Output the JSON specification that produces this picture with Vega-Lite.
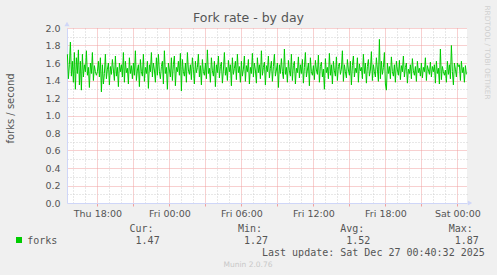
{
"$schema": "https://vega.github.io/schema/vega-lite/v6.json",
"width": 400, "height": 175,
"autosize": {"type": "none"},
"padding": {"left": 67, "top": 28, "right": 30, "bottom": 72},
"background": "#f0f0f0",
"config": {"view": {"stroke": null, "fill": "#ffffff"}},
"title": {"text": "Fork rate - by day", "font": "DejaVu Sans", "fontSize": 12.5, "fontWeight": "normal", "color": "#555555", "anchor": "middle", "frame": "group", "dx": -18.5, "baseline": "alphabetic", "offset": 0, "dy": 29.5},
"resolve": {"axis": {"x": "independent", "y": "independent"}},
"layer": [
{
"data": {"values": [{}]},
"mark": {"type": "rule", "opacity": 0},
"encoding": {
"x": {"datum": {"year": 2025, "month": 12, "date": 26, "hours": 12}, "type": "temporal",
 "scale": {"domain": [{"year": 2025, "month": 12, "date": 25, "hours": 15, "minutes": 28}, {"year": 2025, "month": 12, "date": 27, "hours": 0, "minutes": 48}]},
 "axis": {"orient": "bottom", "values": [
 {"year": 2025, "month": 12, "date": 25, "hours": 16}, {"year": 2025, "month": 12, "date": 25, "hours": 17},
 {"year": 2025, "month": 12, "date": 25, "hours": 19}, {"year": 2025, "month": 12, "date": 25, "hours": 20},
 {"year": 2025, "month": 12, "date": 25, "hours": 22}, {"year": 2025, "month": 12, "date": 25, "hours": 23},
 {"year": 2025, "month": 12, "date": 26, "hours": 1}, {"year": 2025, "month": 12, "date": 26, "hours": 2},
 {"year": 2025, "month": 12, "date": 26, "hours": 4}, {"year": 2025, "month": 12, "date": 26, "hours": 5},
 {"year": 2025, "month": 12, "date": 26, "hours": 7}, {"year": 2025, "month": 12, "date": 26, "hours": 8},
 {"year": 2025, "month": 12, "date": 26, "hours": 10}, {"year": 2025, "month": 12, "date": 26, "hours": 11},
 {"year": 2025, "month": 12, "date": 26, "hours": 13}, {"year": 2025, "month": 12, "date": 26, "hours": 14},
 {"year": 2025, "month": 12, "date": 26, "hours": 16}, {"year": 2025, "month": 12, "date": 26, "hours": 17},
 {"year": 2025, "month": 12, "date": 26, "hours": 19}, {"year": 2025, "month": 12, "date": 26, "hours": 20},
 {"year": 2025, "month": 12, "date": 26, "hours": 22}, {"year": 2025, "month": 12, "date": 26, "hours": 23}],
 "grid": true, "gridColor": "#d0d0d0", "gridDash": [1, 2], "labels": false, "ticks": false, "domain": false,
 "title": "Munin 2.0.76", "titleFont": "DejaVu Sans", "titleFontSize": 7.5, "titleFontWeight": "normal", "titleColor": "#c8c8c8",
 "titleX": 180.5, "titleY": 63.5, "titleAlign": "center", "titleBaseline": "alphabetic"}},
"y": {"datum": 1, "type": "quantitative", "scale": {"domain": [0, 2], "nice": false},
 "axis": {"orient": "right", "values": [0.1, 0.3, 0.5, 0.7, 0.9, 1.1, 1.3, 1.5, 1.7, 1.9],
 "grid": true, "gridColor": "#d0d0d0", "gridDash": [1, 2], "labels": false, "ticks": false, "domain": false,
 "title": "RRDTOOL / TOBI OETIKER", "titleAngle": 90, "titleFont": "DejaVu Sans", "titleFontSize": 7.3, "titleFontWeight": "normal", "titleColor": "#d0d0d0",
 "titleX": 19, "titleY": -23, "titleAlign": "left", "titleBaseline": "middle"}}
}
},
{
"data": {"values": [{}]},
"mark": {"type": "rule", "opacity": 0},
"encoding": {
"x": {"datum": {"year": 2025, "month": 12, "date": 26, "hours": 12}, "type": "temporal",
 "axis": {"orient": "bottom", "values": [
 {"year": 2025, "month": 12, "date": 25, "hours": 18}, {"year": 2025, "month": 12, "date": 25, "hours": 21},
 {"year": 2025, "month": 12, "date": 26, "hours": 0}, {"year": 2025, "month": 12, "date": 26, "hours": 3},
 {"year": 2025, "month": 12, "date": 26, "hours": 6}, {"year": 2025, "month": 12, "date": 26, "hours": 9},
 {"year": 2025, "month": 12, "date": 26, "hours": 12}, {"year": 2025, "month": 12, "date": 26, "hours": 15},
 {"year": 2025, "month": 12, "date": 26, "hours": 18}, {"year": 2025, "month": 12, "date": 26, "hours": 21},
 {"year": 2025, "month": 12, "date": 27, "hours": 0}],
 "grid": true, "gridColor": "#f0a0a0", "gridDash": [1, 1], "labels": false, "ticks": true, "tickColor": "#f0a0a0", "tickSize": 3, "domain": false,
 "title": ["\u200b\u00a0\u00a0\u00a0\u00a0\u00a0\u00a0\u00a0\u00a0\u00a0\u00a0\u00a0\u00a0\u00a0\u00a0\u00a0\u00a0\u00a0Cur:\u00a0\u00a0\u00a0\u00a0\u00a0\u00a0\u00a0\u00a0\u00a0\u00a0\u00a0\u00a0\u00a0\u00a0Min:\u00a0\u00a0\u00a0\u00a0\u00a0\u00a0\u00a0\u00a0\u00a0\u00a0\u00a0\u00a0\u00a0Avg:\u00a0\u00a0\u00a0\u00a0\u00a0\u00a0\u00a0\u00a0\u00a0\u00a0\u00a0\u00a0\u00a0\u00a0Max:",
 "\u200bforks\u00a0\u00a0\u00a0\u00a0\u00a0\u00a0\u00a0\u00a0\u00a0\u00a0\u00a0\u00a0\u00a01.47\u00a0\u00a0\u00a0\u00a0\u00a0\u00a0\u00a0\u00a0\u00a0\u00a0\u00a0\u00a0\u00a0\u00a01.27\u00a0\u00a0\u00a0\u00a0\u00a0\u00a0\u00a0\u00a0\u00a0\u00a0\u00a0\u00a0\u00a01.52\u00a0\u00a0\u00a0\u00a0\u00a0\u00a0\u00a0\u00a0\u00a0\u00a0\u00a0\u00a0\u00a0\u00a01.87",
 "\u200b\u00a0\u00a0\u00a0\u00a0\u00a0\u00a0\u00a0\u00a0\u00a0\u00a0\u00a0\u00a0\u00a0\u00a0\u00a0\u00a0\u00a0\u00a0\u00a0\u00a0\u00a0\u00a0\u00a0\u00a0\u00a0\u00a0\u00a0\u00a0\u00a0\u00a0\u00a0\u00a0\u00a0\u00a0\u00a0\u00a0\u00a0\u00a0\u00a0Last update: Sat Dec 27 00:40:32 2025"],
 "titleFont": "DejaVu Sans Mono", "titleFontSize": 10, "titleFontWeight": "normal", "titleColor": "#555555",
 "titleX": -40.3, "titleY": 20.6, "titleAlign": "left", "titleBaseline": "top", "titleLineHeight": 11.8}},
"y": {"datum": 1, "type": "quantitative",
 "axis": {"orient": "left", "values": [0.2, 0.4, 0.6, 0.8, 1.0, 1.2, 1.4, 1.6, 1.8, 2.0],
 "grid": true, "gridColor": "#f0a0a0", "gridDash": [1, 1], "labels": false, "ticks": false, "domain": false, "title": null}}
}
},
{
"data": {"values": [{}]},
"mark": {"type": "point", "shape": "triangle-right", "size": 26, "filled": true, "color": "#cfd6f8", "opacity": 1},
"encoding": {
"x": {"datum": {"year": 2025, "month": 12, "date": 27, "hours": 1, "minutes": 3}, "type": "temporal", "axis": null},
"y": {"datum": 0, "type": "quantitative", "axis": null}
}
},
{
"data": {"values": [{}]},
"mark": {"type": "point", "shape": "triangle-up", "size": 26, "filled": true, "color": "#cfd6f8", "opacity": 1},
"encoding": {
"x": {"datum": {"year": 2025, "month": 12, "date": 25, "hours": 15, "minutes": 28}, "type": "temporal", "axis": null},
"y": {"datum": 2.046, "type": "quantitative", "axis": null}
}
},
{
"data": {"values": [
{"t":"2025-12-25T15:30","v":1.70},{"t":"2025-12-25T15:35","v":1.42},{"t":"2025-12-25T15:40","v":1.58},{"t":"2025-12-25T15:45","v":1.84},{"t":"2025-12-25T15:50","v":1.45},{"t":"2025-12-25T15:55","v":1.62},
{"t":"2025-12-25T16:00","v":1.38},{"t":"2025-12-25T16:05","v":1.72},{"t":"2025-12-25T16:10","v":1.30},{"t":"2025-12-25T16:15","v":1.66},{"t":"2025-12-25T16:20","v":1.48},{"t":"2025-12-25T16:25","v":1.75},{"t":"2025-12-25T16:30","v":1.35},{"t":"2025-12-25T16:35","v":1.62},{"t":"2025-12-25T16:40","v":1.29},{"t":"2025-12-25T16:45","v":1.70},{"t":"2025-12-25T16:50","v":1.44},{"t":"2025-12-25T16:55","v":1.58},
{"t":"2025-12-25T17:00","v":1.50},{"t":"2025-12-25T17:05","v":1.74},{"t":"2025-12-25T17:10","v":1.46},{"t":"2025-12-25T17:15","v":1.55},{"t":"2025-12-25T17:20","v":1.32},{"t":"2025-12-25T17:25","v":1.60},{"t":"2025-12-25T17:30","v":1.48},{"t":"2025-12-25T17:35","v":1.72},{"t":"2025-12-25T17:40","v":1.40},{"t":"2025-12-25T17:45","v":1.57},{"t":"2025-12-25T17:50","v":1.50},{"t":"2025-12-25T17:55","v":1.46},
{"t":"2025-12-25T18:00","v":1.50},{"t":"2025-12-25T18:05","v":1.62},{"t":"2025-12-25T18:10","v":1.44},{"t":"2025-12-25T18:15","v":1.66},{"t":"2025-12-25T18:20","v":1.27},{"t":"2025-12-25T18:25","v":1.58},{"t":"2025-12-25T18:30","v":1.36},{"t":"2025-12-25T18:35","v":1.48},{"t":"2025-12-25T18:40","v":1.70},{"t":"2025-12-25T18:45","v":1.42},{"t":"2025-12-25T18:50","v":1.53},{"t":"2025-12-25T18:55","v":1.60},
{"t":"2025-12-25T19:00","v":1.35},{"t":"2025-12-25T19:05","v":1.56},{"t":"2025-12-25T19:10","v":1.47},{"t":"2025-12-25T19:15","v":1.64},{"t":"2025-12-25T19:20","v":1.52},{"t":"2025-12-25T19:25","v":1.40},{"t":"2025-12-25T19:30","v":1.68},{"t":"2025-12-25T19:35","v":1.45},{"t":"2025-12-25T19:40","v":1.55},{"t":"2025-12-25T19:45","v":1.33},{"t":"2025-12-25T19:50","v":1.60},{"t":"2025-12-25T19:55","v":1.50},
{"t":"2025-12-25T20:00","v":1.58},{"t":"2025-12-25T20:05","v":1.44},{"t":"2025-12-25T20:10","v":1.72},{"t":"2025-12-25T20:15","v":1.38},{"t":"2025-12-25T20:20","v":1.62},{"t":"2025-12-25T20:25","v":1.49},{"t":"2025-12-25T20:30","v":1.54},{"t":"2025-12-25T20:35","v":1.36},{"t":"2025-12-25T20:40","v":1.66},{"t":"2025-12-25T20:45","v":1.48},{"t":"2025-12-25T20:50","v":1.57},{"t":"2025-12-25T20:55","v":1.42},
{"t":"2025-12-25T21:00","v":1.60},{"t":"2025-12-25T21:05","v":1.46},{"t":"2025-12-25T21:10","v":1.74},{"t":"2025-12-25T21:15","v":1.40},{"t":"2025-12-25T21:20","v":1.52},{"t":"2025-12-25T21:25","v":1.58},{"t":"2025-12-25T21:30","v":1.33},{"t":"2025-12-25T21:35","v":1.64},{"t":"2025-12-25T21:40","v":1.50},{"t":"2025-12-25T21:45","v":1.45},{"t":"2025-12-25T21:50","v":1.70},{"t":"2025-12-25T21:55","v":1.39},
{"t":"2025-12-25T22:00","v":1.55},{"t":"2025-12-25T22:05","v":1.48},{"t":"2025-12-25T22:10","v":1.62},{"t":"2025-12-25T22:15","v":1.31},{"t":"2025-12-25T22:20","v":1.58},{"t":"2025-12-25T22:25","v":1.50},{"t":"2025-12-25T22:30","v":1.72},{"t":"2025-12-25T22:35","v":1.44},{"t":"2025-12-25T22:40","v":1.60},{"t":"2025-12-25T22:45","v":1.52},{"t":"2025-12-25T22:50","v":1.38},{"t":"2025-12-25T22:55","v":1.66},
{"t":"2025-12-25T23:00","v":1.46},{"t":"2025-12-25T23:05","v":1.70},{"t":"2025-12-25T23:10","v":1.50},{"t":"2025-12-25T23:15","v":1.42},{"t":"2025-12-25T23:20","v":1.56},{"t":"2025-12-25T23:25","v":1.62},{"t":"2025-12-25T23:30","v":1.36},{"t":"2025-12-25T23:35","v":1.74},{"t":"2025-12-25T23:40","v":1.48},{"t":"2025-12-25T23:45","v":1.55},{"t":"2025-12-25T23:50","v":1.30},{"t":"2025-12-25T23:55","v":1.60},
{"t":"2025-12-26T00:00","v":1.52},{"t":"2025-12-26T00:05","v":1.44},{"t":"2025-12-26T00:10","v":1.66},{"t":"2025-12-26T00:15","v":1.40},{"t":"2025-12-26T00:20","v":1.58},{"t":"2025-12-26T00:25","v":1.68},{"t":"2025-12-26T00:30","v":1.34},{"t":"2025-12-26T00:35","v":1.55},{"t":"2025-12-26T00:40","v":1.50},{"t":"2025-12-26T00:45","v":1.62},{"t":"2025-12-26T00:50","v":1.46},{"t":"2025-12-26T00:55","v":1.71},
{"t":"2025-12-26T01:00","v":1.28},{"t":"2025-12-26T01:05","v":1.64},{"t":"2025-12-26T01:10","v":1.50},{"t":"2025-12-26T01:15","v":1.45},{"t":"2025-12-26T01:20","v":1.60},{"t":"2025-12-26T01:25","v":1.38},{"t":"2025-12-26T01:30","v":1.72},{"t":"2025-12-26T01:35","v":1.52},{"t":"2025-12-26T01:40","v":1.47},{"t":"2025-12-26T01:45","v":1.58},{"t":"2025-12-26T01:50","v":1.41},{"t":"2025-12-26T01:55","v":1.66},
{"t":"2025-12-26T02:00","v":1.53},{"t":"2025-12-26T02:05","v":1.36},{"t":"2025-12-26T02:10","v":1.62},{"t":"2025-12-26T02:15","v":1.49},{"t":"2025-12-26T02:20","v":1.55},{"t":"2025-12-26T02:25","v":1.70},{"t":"2025-12-26T02:30","v":1.44},{"t":"2025-12-26T02:35","v":1.57},{"t":"2025-12-26T02:40","v":1.35},{"t":"2025-12-26T02:45","v":1.64},{"t":"2025-12-26T02:50","v":1.50},{"t":"2025-12-26T02:55","v":1.46},
{"t":"2025-12-26T03:00","v":1.60},{"t":"2025-12-26T03:05","v":1.42},{"t":"2025-12-26T03:10","v":1.75},{"t":"2025-12-26T03:15","v":1.48},{"t":"2025-12-26T03:20","v":1.54},{"t":"2025-12-26T03:25","v":1.38},{"t":"2025-12-26T03:30","v":1.66},{"t":"2025-12-26T03:35","v":1.51},{"t":"2025-12-26T03:40","v":1.45},{"t":"2025-12-26T03:45","v":1.62},{"t":"2025-12-26T03:50","v":1.33},{"t":"2025-12-26T03:55","v":1.58},
{"t":"2025-12-26T04:00","v":1.49},{"t":"2025-12-26T04:05","v":1.68},{"t":"2025-12-26T04:10","v":1.43},{"t":"2025-12-26T04:15","v":1.56},{"t":"2025-12-26T04:20","v":1.61},{"t":"2025-12-26T04:25","v":1.37},{"t":"2025-12-26T04:30","v":1.52},{"t":"2025-12-26T04:35","v":1.72},{"t":"2025-12-26T04:40","v":1.46},{"t":"2025-12-26T04:45","v":1.55},{"t":"2025-12-26T04:50","v":1.40},{"t":"2025-12-26T04:55","v":1.63},
{"t":"2025-12-26T05:00","v":1.50},{"t":"2025-12-26T05:05","v":1.58},{"t":"2025-12-26T05:10","v":1.34},{"t":"2025-12-26T05:15","v":1.66},{"t":"2025-12-26T05:20","v":1.47},{"t":"2025-12-26T05:25","v":1.54},{"t":"2025-12-26T05:30","v":1.62},{"t":"2025-12-26T05:35","v":1.41},{"t":"2025-12-26T05:40","v":1.70},{"t":"2025-12-26T05:45","v":1.49},{"t":"2025-12-26T05:50","v":1.56},{"t":"2025-12-26T05:55","v":1.38},
{"t":"2025-12-26T06:00","v":1.62},{"t":"2025-12-26T06:05","v":1.45},{"t":"2025-12-26T06:10","v":1.53},{"t":"2025-12-26T06:15","v":1.68},{"t":"2025-12-26T06:20","v":1.39},{"t":"2025-12-26T06:25","v":1.57},{"t":"2025-12-26T06:30","v":1.50},{"t":"2025-12-26T06:35","v":1.64},{"t":"2025-12-26T06:40","v":1.36},{"t":"2025-12-26T06:45","v":1.55},{"t":"2025-12-26T06:50","v":1.48},{"t":"2025-12-26T06:55","v":1.71},
{"t":"2025-12-26T07:00","v":1.44},{"t":"2025-12-26T07:05","v":1.60},{"t":"2025-12-26T07:10","v":1.52},{"t":"2025-12-26T07:15","v":1.37},{"t":"2025-12-26T07:20","v":1.66},{"t":"2025-12-26T07:25","v":1.49},{"t":"2025-12-26T07:30","v":1.58},{"t":"2025-12-26T07:35","v":1.42},{"t":"2025-12-26T07:40","v":1.74},{"t":"2025-12-26T07:45","v":1.46},{"t":"2025-12-26T07:50","v":1.55},{"t":"2025-12-26T07:55","v":1.61},
{"t":"2025-12-26T08:00","v":1.35},{"t":"2025-12-26T08:05","v":1.57},{"t":"2025-12-26T08:10","v":1.50},{"t":"2025-12-26T08:15","v":1.68},{"t":"2025-12-26T08:20","v":1.43},{"t":"2025-12-26T08:25","v":1.54},{"t":"2025-12-26T08:30","v":1.62},{"t":"2025-12-26T08:35","v":1.39},{"t":"2025-12-26T08:40","v":1.56},{"t":"2025-12-26T08:45","v":1.70},{"t":"2025-12-26T08:50","v":1.45},{"t":"2025-12-26T08:55","v":1.52},
{"t":"2025-12-26T09:00","v":1.60},{"t":"2025-12-26T09:05","v":1.32},{"t":"2025-12-26T09:10","v":1.58},{"t":"2025-12-26T09:15","v":1.48},{"t":"2025-12-26T09:20","v":1.65},{"t":"2025-12-26T09:25","v":1.50},{"t":"2025-12-26T09:30","v":1.42},{"t":"2025-12-26T09:35","v":1.76},{"t":"2025-12-26T09:40","v":1.47},{"t":"2025-12-26T09:45","v":1.55},{"t":"2025-12-26T09:50","v":1.38},{"t":"2025-12-26T09:55","v":1.63},
{"t":"2025-12-26T10:00","v":1.51},{"t":"2025-12-26T10:05","v":1.45},{"t":"2025-12-26T10:10","v":1.70},{"t":"2025-12-26T10:15","v":1.40},{"t":"2025-12-26T10:20","v":1.57},{"t":"2025-12-26T10:25","v":1.62},{"t":"2025-12-26T10:30","v":1.36},{"t":"2025-12-26T10:35","v":1.54},{"t":"2025-12-26T10:40","v":1.49},{"t":"2025-12-26T10:45","v":1.67},{"t":"2025-12-26T10:50","v":1.43},{"t":"2025-12-26T10:55","v":1.58},
{"t":"2025-12-26T11:00","v":1.48},{"t":"2025-12-26T11:05","v":1.64},{"t":"2025-12-26T11:10","v":1.37},{"t":"2025-12-26T11:15","v":1.55},{"t":"2025-12-26T11:20","v":1.72},{"t":"2025-12-26T11:25","v":1.44},{"t":"2025-12-26T11:30","v":1.52},{"t":"2025-12-26T11:35","v":1.60},{"t":"2025-12-26T11:40","v":1.34},{"t":"2025-12-26T11:45","v":1.66},{"t":"2025-12-26T11:50","v":1.50},{"t":"2025-12-26T11:55","v":1.46},
{"t":"2025-12-26T12:00","v":1.57},{"t":"2025-12-26T12:05","v":1.41},{"t":"2025-12-26T12:10","v":1.63},{"t":"2025-12-26T12:15","v":1.52},{"t":"2025-12-26T12:20","v":1.47},{"t":"2025-12-26T12:25","v":1.69},{"t":"2025-12-26T12:30","v":1.38},{"t":"2025-12-26T12:35","v":1.56},{"t":"2025-12-26T12:40","v":1.61},{"t":"2025-12-26T12:45","v":1.44},{"t":"2025-12-26T12:50","v":1.53},{"t":"2025-12-26T12:55","v":1.30},
{"t":"2025-12-26T13:00","v":1.65},{"t":"2025-12-26T13:05","v":1.49},{"t":"2025-12-26T13:10","v":1.55},{"t":"2025-12-26T13:15","v":1.42},{"t":"2025-12-26T13:20","v":1.71},{"t":"2025-12-26T13:25","v":1.46},{"t":"2025-12-26T13:30","v":1.58},{"t":"2025-12-26T13:35","v":1.36},{"t":"2025-12-26T13:40","v":1.62},{"t":"2025-12-26T13:45","v":1.51},{"t":"2025-12-26T13:50","v":1.45},{"t":"2025-12-26T13:55","v":1.67},
{"t":"2025-12-26T14:00","v":1.40},{"t":"2025-12-26T14:05","v":1.56},{"t":"2025-12-26T14:10","v":1.60},{"t":"2025-12-26T14:15","v":1.47},{"t":"2025-12-26T14:20","v":1.53},{"t":"2025-12-26T14:25","v":1.74},{"t":"2025-12-26T14:30","v":1.39},{"t":"2025-12-26T14:35","v":1.58},{"t":"2025-12-26T14:40","v":1.50},{"t":"2025-12-26T14:45","v":1.43},{"t":"2025-12-26T14:50","v":1.64},{"t":"2025-12-26T14:55","v":1.52},
{"t":"2025-12-26T15:00","v":1.46},{"t":"2025-12-26T15:05","v":1.62},{"t":"2025-12-26T15:10","v":1.35},{"t":"2025-12-26T15:15","v":1.57},{"t":"2025-12-26T15:20","v":1.68},{"t":"2025-12-26T15:25","v":1.44},{"t":"2025-12-26T15:30","v":1.54},{"t":"2025-12-26T15:35","v":1.49},{"t":"2025-12-26T15:40","v":1.66},{"t":"2025-12-26T15:45","v":1.38},{"t":"2025-12-26T15:50","v":1.59},{"t":"2025-12-26T15:55","v":1.51},
{"t":"2025-12-26T16:00","v":1.55},{"t":"2025-12-26T16:05","v":1.42},{"t":"2025-12-26T16:10","v":1.70},{"t":"2025-12-26T16:15","v":1.48},{"t":"2025-12-26T16:20","v":1.60},{"t":"2025-12-26T16:25","v":1.37},{"t":"2025-12-26T16:30","v":1.56},{"t":"2025-12-26T16:35","v":1.64},{"t":"2025-12-26T16:40","v":1.45},{"t":"2025-12-26T16:45","v":1.52},{"t":"2025-12-26T16:50","v":1.73},{"t":"2025-12-26T16:55","v":1.40},
{"t":"2025-12-26T17:00","v":1.58},{"t":"2025-12-26T17:05","v":1.50},{"t":"2025-12-26T17:10","v":1.44},{"t":"2025-12-26T17:15","v":1.66},{"t":"2025-12-26T17:20","v":1.53},{"t":"2025-12-26T17:25","v":1.39},{"t":"2025-12-26T17:30","v":1.87},{"t":"2025-12-26T17:35","v":1.42},{"t":"2025-12-26T17:40","v":1.62},{"t":"2025-12-26T17:45","v":1.47},{"t":"2025-12-26T17:50","v":1.55},{"t":"2025-12-26T17:55","v":1.72},
{"t":"2025-12-26T18:00","v":1.36},{"t":"2025-12-26T18:05","v":1.29},{"t":"2025-12-26T18:10","v":1.60},{"t":"2025-12-26T18:15","v":1.48},{"t":"2025-12-26T18:20","v":1.56},{"t":"2025-12-26T18:25","v":1.42},{"t":"2025-12-26T18:30","v":1.67},{"t":"2025-12-26T18:35","v":1.50},{"t":"2025-12-26T18:40","v":1.45},{"t":"2025-12-26T18:45","v":1.58},{"t":"2025-12-26T18:50","v":1.38},{"t":"2025-12-26T18:55","v":1.62},
{"t":"2025-12-26T19:00","v":1.52},{"t":"2025-12-26T19:05","v":1.46},{"t":"2025-12-26T19:10","v":1.63},{"t":"2025-12-26T19:15","v":1.41},{"t":"2025-12-26T19:20","v":1.57},{"t":"2025-12-26T19:25","v":1.50},{"t":"2025-12-26T19:30","v":1.68},{"t":"2025-12-26T19:35","v":1.44},{"t":"2025-12-26T19:40","v":1.55},{"t":"2025-12-26T19:45","v":1.60},{"t":"2025-12-26T19:50","v":1.37},{"t":"2025-12-26T19:55","v":1.53},
{"t":"2025-12-26T20:00","v":1.48},{"t":"2025-12-26T20:05","v":1.58},{"t":"2025-12-26T20:10","v":1.42},{"t":"2025-12-26T20:15","v":1.65},{"t":"2025-12-26T20:20","v":1.51},{"t":"2025-12-26T20:25","v":1.46},{"t":"2025-12-26T20:30","v":1.56},{"t":"2025-12-26T20:35","v":1.39},{"t":"2025-12-26T20:40","v":1.62},{"t":"2025-12-26T20:45","v":1.49},{"t":"2025-12-26T20:50","v":1.54},{"t":"2025-12-26T20:55","v":1.45},
{"t":"2025-12-26T21:00","v":1.60},{"t":"2025-12-26T21:05","v":1.43},{"t":"2025-12-26T21:10","v":1.55},{"t":"2025-12-26T21:15","v":1.50},{"t":"2025-12-26T21:20","v":1.66},{"t":"2025-12-26T21:25","v":1.40},{"t":"2025-12-26T21:30","v":1.57},{"t":"2025-12-26T21:35","v":1.52},{"t":"2025-12-26T21:40","v":1.47},{"t":"2025-12-26T21:45","v":1.61},{"t":"2025-12-26T21:50","v":1.44},{"t":"2025-12-26T21:55","v":1.56},
{"t":"2025-12-26T22:00","v":1.50},{"t":"2025-12-26T22:05","v":1.58},{"t":"2025-12-26T22:10","v":1.37},{"t":"2025-12-26T22:15","v":1.62},{"t":"2025-12-26T22:20","v":1.48},{"t":"2025-12-26T22:25","v":1.54},{"t":"2025-12-26T22:30","v":1.36},{"t":"2025-12-26T22:35","v":1.76},{"t":"2025-12-26T22:40","v":1.41},{"t":"2025-12-26T22:45","v":1.56},{"t":"2025-12-26T22:50","v":1.50},{"t":"2025-12-26T22:55","v":1.46},
{"t":"2025-12-26T23:00","v":1.52},{"t":"2025-12-26T23:05","v":1.38},{"t":"2025-12-26T23:10","v":1.62},{"t":"2025-12-26T23:15","v":1.47},{"t":"2025-12-26T23:20","v":1.58},{"t":"2025-12-26T23:25","v":1.42},{"t":"2025-12-26T23:30","v":1.80},{"t":"2025-12-26T23:35","v":1.50},{"t":"2025-12-26T23:40","v":1.35},{"t":"2025-12-26T23:45","v":1.60},{"t":"2025-12-26T23:50","v":1.53},{"t":"2025-12-26T23:55","v":1.44},
{"t":"2025-12-27T00:00","v":1.60},{"t":"2025-12-27T00:05","v":1.56},{"t":"2025-12-27T00:10","v":1.58},{"t":"2025-12-27T00:15","v":1.40},{"t":"2025-12-27T00:20","v":1.62},{"t":"2025-12-27T00:25","v":1.49},{"t":"2025-12-27T00:30","v":1.55},{"t":"2025-12-27T00:35","v":1.38},{"t":"2025-12-27T00:40","v":1.57},{"t":"2025-12-27T00:45","v":1.47}
]},
"mark": {"type": "line", "strokeWidth": 1, "interpolate": "linear"},
"encoding": {
"x": {"field": "t", "type": "temporal",
 "axis": {"orient": "bottom", "values": [
 {"year": 2025, "month": 12, "date": 25, "hours": 18}, {"year": 2025, "month": 12, "date": 26, "hours": 0},
 {"year": 2025, "month": 12, "date": 26, "hours": 6}, {"year": 2025, "month": 12, "date": 26, "hours": 12},
 {"year": 2025, "month": 12, "date": 26, "hours": 18}, {"year": 2025, "month": 12, "date": 27, "hours": 0}],
 "format": "%a %H:%M", "labelFont": "DejaVu Sans", "labelFontSize": 9.5, "labelColor": "#555555", "labelPadding": 5,
 "labelFlush": false, "labelOverlap": false, "grid": false, "ticks": false, "domain": true, "domainColor": "#cfd6f8", "title": null}},
"y": {"field": "v", "type": "quantitative",
 "axis": {"orient": "left", "values": [0, 0.2, 0.4, 0.6, 0.8, 1.0, 1.2, 1.4, 1.6, 1.8, 2.0], "format": ".1f",
 "labelFont": "DejaVu Sans", "labelFontSize": 9.5, "labelColor": "#555555", "labelPadding": 7, "labelFlush": false, "labelOverlap": false,
 "grid": false, "ticks": false, "domain": true, "domainColor": "#cfd6f8",
 "title": "forks / second", "titleFont": "DejaVu Sans", "titleFontSize": 10, "titleFontWeight": "normal", "titleColor": "#555555",
 "titleX": -56.5, "titleY": 80, "titleAlign": "center", "titleBaseline": "middle", "titleAngle": -90}},
"color": {"datum": "forks", "type": "nominal", "scale": {"range": ["#00cc00"]},
 "legend": {"orient": "none", "legendX": -53, "legendY": 207, "title": null, "padding": 0, "symbolType": "square", "symbolSize": 36,
 "labelExpr": "''", "labelFontSize": 10, "labelOffset": 0,
 "encode": {"symbols": {"update": {"fill": {"value": "#00cc00"}, "stroke": {"value": "transparent"}, "strokeWidth": {"value": 0}}}}}}
}
}
]
}
